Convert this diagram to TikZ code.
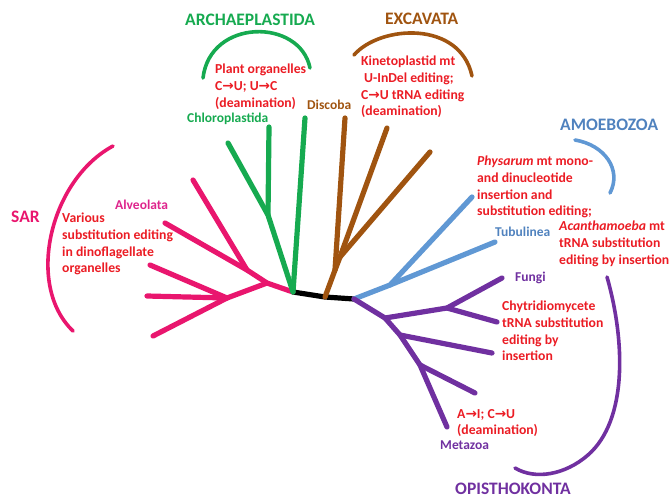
\documentclass[tikz,border=0pt]{standalone}
\usepackage{fontspec}
\setmainfont{Carlito}
\newfontfamily\arrowfont{DejaVu Sans}
\usetikzlibrary{positioning}

\definecolor{sarpink}{RGB}{233,22,110}
\definecolor{alvpink}{RGB}{222,36,140}
\definecolor{plantgreen}{RGB}{22,170,80}
\definecolor{excbrown}{RGB}{160,84,16}
\definecolor{amoblue}{RGB}{96,152,212}
\definecolor{amotext}{RGB}{80,130,190}
\definecolor{opipurple}{RGB}{112,48,160}
\definecolor{notered}{RGB}{235,28,36}

\newcommand{\tto}{{\arrowfont\symbol{"2192}}}

\tikzset{
  branch/.style={line width=5.2pt,line cap=round,line join=round},
  bracket/.style={line width=3.6pt,line cap=round},
  clade/.style={font=\bfseries\fontsize{17.5}{20}\selectfont,anchor=west,inner sep=0pt},
  taxon/.style={font=\bfseries\fontsize{13.5}{16.5}\selectfont,anchor=base west,inner sep=0pt},
  note/.style={font=\bfseries\fontsize{13.7}{16.6}\selectfont,text=notered,align=left,anchor=north west,inner sep=0pt}
}

\begin{document}
\begin{tikzpicture}[x=1pt,y=-1pt]
  \useasboundingbox (0,0) rectangle (672,501);
  % junctions of the tree (pixel positions, y downwards)
  \coordinate (root) at (293,292); % SAR + Archaeplastida
  \coordinate (exc0) at (325,297);
  \coordinate (uni0) at (354,299); % Amoebozoa + Opisthokonta
  \draw[branch,black] (root) -- (exc0) -- (uni0);

  % SAR
  \coordinate (sar1) at (267,283);
  \coordinate (sar2) at (247,270);
  \coordinate (sar3) at (227,298);
  \coordinate (sarA) at (193,180);
  \coordinate (sarB) at (165,223);
  \coordinate (sarC) at (150,265);
  \coordinate (sarD) at (147,296);
  \coordinate (sarE) at (153,336);
  \draw[branch,sarpink] (root) -- (sar1) -- (sar2) -- (sarB);
  \draw[branch,sarpink] (sar2) -- (sarA);
  \draw[branch,sarpink] (sar1) -- (sar3) -- (sarE);
  \draw[branch,sarpink] (sar3) -- (sarC);
  \draw[branch,sarpink] (sar3) -- (sarD);
  \draw[bracket,sarpink] (113,146) .. controls (50,180) and (25,285) .. (73,331);
  \node[clade,text=sarpink] (sar) at (11,217) {SAR};
  \node[taxon,text=alvpink] (alveolata) at (115,209) {Alveolata};
  \node[note] (sarnote) at (62,213) {Various\\substitution editing\\in dinoflagellate\\organelles};

  % Archaeplastida
  \coordinate (gr1) at (268,215);
  \coordinate (grA) at (228,143);
  \coordinate (grB) at (269,127);
  \coordinate (grC) at (305,118);
  \draw[branch,plantgreen] (root) -- (gr1) -- (grA);
  \draw[branch,plantgreen] (gr1) -- (grB);
  \draw[branch,plantgreen] (root) -- (grC);
  \draw[bracket,plantgreen] (203,78) .. controls (210,18) and (300,18) .. (310,68);
  \node[clade,text=plantgreen] (archae) at (185,20) {ARCHAEPLASTIDA};
  \node[note] (plantnote) at (215,64) {Plant organelles\\C\tto U; U\tto C\\(deamination)};
  \node[taxon,text=plantgreen] (chloro) at (187,122) {Chloroplastida};

  % Excavata
  \coordinate (exc1) at (335,270);
  \coordinate (exc2) at (340,257);
  \coordinate (excA) at (345,118);
  \coordinate (excB) at (387,128);
  \coordinate (excC) at (430,152);
  \draw[branch,excbrown] (exc0) -- (exc1) -- (excA);
  \draw[branch,excbrown] (exc1) -- (exc2) -- (excB);
  \draw[branch,excbrown] (exc2) -- (excC);
  \draw[bracket,excbrown] (354,55) .. controls (380,25) and (460,20) .. (472,76);
  \node[clade,text=excbrown] (excav) at (385,19) {EXCAVATA};
  \node[taxon,text=excbrown] (discoba) at (307,109) {Discoba};
  \node[note] (kinetonote) at (361,56) {Kinetoplastid mt\\\hspace{3pt}U-InDel editing;\\C\tto U tRNA editing\\(deamination)};

  % Amoebozoa
  \coordinate (amo1) at (390,285);
  \coordinate (amoA) at (472,197);
  \coordinate (amoB) at (495,242);
  \draw[branch,amoblue] (uni0) -- (amo1) -- (amoA);
  \draw[branch,amoblue] (amo1) -- (amoB);
  \draw[bracket,amoblue] (575,140) .. controls (605,145) and (622,170) .. (610,193);
  \node[clade,text=amotext] (amoebo) at (560,125) {AMOEBOZOA};
  \node[note] (physnote) at (477,156) {\textit{Physarum} mt mono-\\and dinucleotide\\insertion and\\substitution editing;};
  \node[taxon,text=amotext] (tubul) at (495,236) {Tubulinea};
  \node[note] (acanthnote) at (559,221) {\textit{Acanthamoeba} mt\\tRNA substitution\\editing by insertion};

  % Opisthokonta
  \coordinate (op1) at (385,318);
  \coordinate (op2) at (447,308);
  \coordinate (op3) at (400,335);
  \coordinate (op4) at (420,365);
  \coordinate (opA) at (502,278);
  \coordinate (opB) at (497,322);
  \coordinate (opC) at (492,353);
  \coordinate (opD) at (475,393);
  \coordinate (opE) at (447,427);
  \draw[branch,opipurple] (uni0) -- (op1) -- (op2) -- (opA);
  \draw[branch,opipurple] (op2) -- (opB);
  \draw[branch,opipurple] (op1) -- (op3) -- (opC);
  \draw[branch,opipurple] (op3) -- (op4) -- (opE);
  \draw[branch,opipurple] (op4) -- (opD);
  \draw[bracket,opipurple] (607,277) .. controls (625,340) and (628,420) .. (588,455) .. controls (565,475) and (535,480) .. (515,468);
  \node[clade,text=opipurple] (opistho) at (455,489) {OPISTHOKONTA};
  \node[taxon,text=opipurple] (fungi) at (515,281) {Fungi};
  \node[note] (chytnote) at (502,301) {Chytridiomycete\\tRNA substitution\\editing by\\insertion};
  \node[note] (metanote) at (457,409) {A\tto I; C\tto U\\(deamination)};
  \node[taxon,text=opipurple] (metazoa) at (440,449) {Metazoa};
\end{tikzpicture}
\end{document}
